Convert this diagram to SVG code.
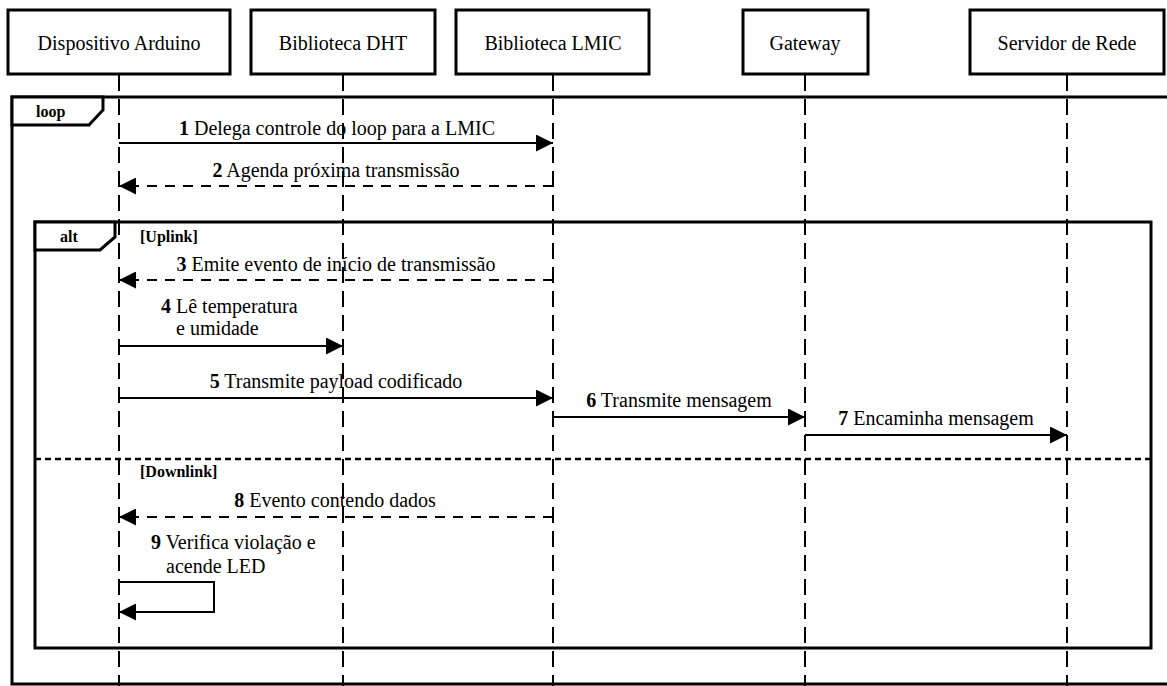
<svg xmlns="http://www.w3.org/2000/svg" width="1167" height="686" viewBox="0 0 1167 686" font-family="'Liberation Serif', 'Times New Roman', Times, 'DejaVu Serif', serif">
<style>
  text { font-family: "Liberation Serif", "Times New Roman", Times, "DejaVu Serif", serif; fill: #000; }
  .hdr { font-size: 20px; text-anchor: middle; }
  .box { fill: #fff; stroke: #000; stroke-width: 3; }
  .life { stroke: #000; stroke-width: 2; stroke-dasharray: 16 8; fill: none; }
  .frame { fill: none; stroke: #000; stroke-width: 3; }
  .tab { fill: #fff; stroke: #000; stroke-width: 3; }
  .flbl { font-size: 16px; font-weight: bold; }
  .msg { stroke: #000; stroke-width: 2; fill: none; marker-end: url(#ah); }
  .ret { stroke-dasharray: 10 8; }
  .lbl { font-size: 20px; }
  .mid { text-anchor: middle; }
  .num { font-weight: bold; }
  .sep { stroke: #000; stroke-width: 2.5; stroke-dasharray: 6 4; }
</style>
<defs>
  <marker id="ah" viewBox="0 0 17 17" refX="17" refY="8.5" markerWidth="17" markerHeight="17" orient="auto" markerUnits="userSpaceOnUse">
    <path d="M0,0 L17,8.5 L0,17 z" fill="#000"/>
  </marker>
</defs>
<rect width="1167" height="686" fill="#fff"/>

<g id="frames">
  <g id="loop-frame">
    <rect class="frame" x="12" y="97" width="1180" height="587"/>
    <path class="tab" d="M12,97 H103 V110 L89,125 H12 Z"/>
    <text class="flbl" x="36" y="117">loop</text>
  </g>
  <g id="alt-frame">
    <rect class="frame" x="35" y="222" width="1116" height="426"/>
    <path class="tab" d="M35,222 H115 V237 L100,250 H35 Z"/>
    <text class="flbl" x="60" y="242">alt</text>
    <text class="flbl" x="140" y="242">[Uplink]</text>
    <line class="sep" x1="35" y1="459" x2="1151" y2="459"/>
    <text class="flbl" x="140" y="477">[Downlink]</text>
  </g>
</g>

<g id="arduino">
  <line class="life" x1="119" y1="75" x2="119" y2="686"/>
  <rect class="box" x="8" y="10" width="222" height="64"/>
  <text class="hdr" x="119" y="50">Dispositivo Arduino</text>
</g>
<g id="dht">
  <line class="life" x1="343" y1="75" x2="343" y2="686"/>
  <rect class="box" x="251" y="10" width="184" height="64"/>
  <text class="hdr" x="343" y="50">Biblioteca DHT</text>
</g>
<g id="lmic">
  <line class="life" x1="553" y1="75" x2="553" y2="686"/>
  <rect class="box" x="456" y="10" width="193" height="64"/>
  <text class="hdr" x="553" y="50">Biblioteca LMIC</text>
</g>
<g id="gateway">
  <line class="life" x1="805" y1="75" x2="805" y2="686"/>
  <rect class="box" x="743" y="10" width="125" height="64"/>
  <text class="hdr" x="805" y="50">Gateway</text>
</g>
<g id="servidor">
  <line class="life" x1="1067" y1="75" x2="1067" y2="686"/>
  <rect class="box" x="970" y="10" width="194" height="64"/>
  <text class="hdr" x="1067" y="50">Servidor de Rede</text>
</g>

<g id="connectors">
  <line class="msg" x1="119" y1="143" x2="553" y2="143"/>
  <text class="lbl mid" x="337" y="135"><tspan class="num">1</tspan> Delega controle do loop para a LMIC</text>

  <line class="msg ret" x1="553" y1="186" x2="119" y2="186"/>
  <text class="lbl mid" x="336" y="177"><tspan class="num">2</tspan> Agenda próxima transmissão</text>

  <line class="msg ret" x1="553" y1="280" x2="119" y2="280"/>
  <text class="lbl mid" x="336" y="271"><tspan class="num">3</tspan> Emite evento de início de transmissão</text>

  <line class="msg" x1="119" y1="346" x2="343" y2="346"/>
  <text class="lbl" x="161" y="313"><tspan class="num">4</tspan> Lê temperatura</text>
  <text class="lbl" x="176" y="335">e umidade</text>

  <line class="msg" x1="119" y1="398" x2="553" y2="398"/>
  <text class="lbl mid" x="336" y="388"><tspan class="num">5</tspan> Transmite payload codificado</text>

  <line class="msg" x1="553" y1="417" x2="805" y2="417"/>
  <text class="lbl mid" x="679" y="407"><tspan class="num">6</tspan> Transmite mensagem</text>

  <line class="msg" x1="805" y1="435" x2="1067" y2="435"/>
  <text class="lbl mid" x="936" y="425"><tspan class="num">7</tspan> Encaminha mensagem</text>

  <line class="msg ret" x1="553" y1="517" x2="119" y2="517"/>
  <text class="lbl mid" x="335" y="507"><tspan class="num">8</tspan> Evento contendo dados</text>

  <path class="msg" d="M119,582 H214 V612 H119"/>
  <text class="lbl" x="151" y="549"><tspan class="num">9</tspan> Verifica violação e</text>
  <text class="lbl" x="166" y="573">acende LED</text>
</g>
</svg>
